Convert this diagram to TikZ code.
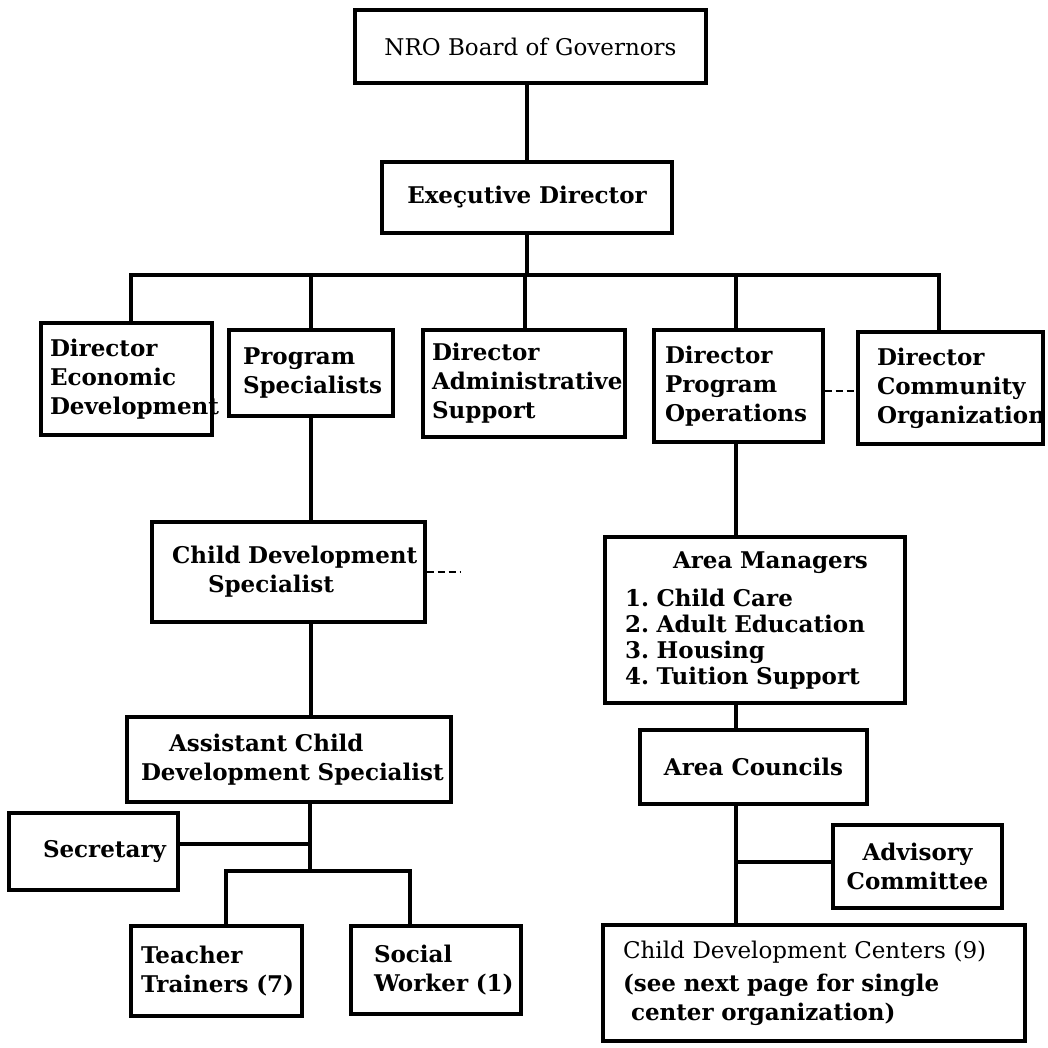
\documentclass[tikz,border=0pt]{standalone}
\usepackage{fontspec}
\setmainfont{DejaVu Serif}
\hyphenpenalty=10000
\exhyphenpenalty=10000
\newcommand\orgbox[8]{% name, x1, y1, x2, y2, inset, extra style, text
  \pgfmathsetmacro\obw{#4-#2}\pgfmathsetmacro\obh{#5-#3}\pgfmathsetmacro\otw{#4-#2-2*#6}%
  \node[box,minimum width=\obw pt,minimum height=\obh pt,text width=\otw pt,inner xsep=#6pt,align=left,#7] (#1) at ({(#2+#4)/2},{(#3+#5)/2}) {#8};}
\newcommand\orgcbox[7]{% name, x1, y1, x2, y2, extra style, text
  \pgfmathsetmacro\obw{#4-#2}\pgfmathsetmacro\obh{#5-#3}%
  \node[box,minimum width=\obw pt,minimum height=\obh pt,align=center,#6] (#1) at ({(#2+#4)/2},{(#3+#5)/2}) {#7};}
\tikzset{
  box/.style={draw,rectangle,line width=3.4pt,inner ysep=0pt,font=\fontsize{23}{29}\selectfont\bfseries},
  conn/.style={line width=3.4pt},
  dashconn/.style={line width=1.5pt,dash pattern=on 7pt off 4pt}
}
\begin{document}
\begin{tikzpicture}[x=1pt,y=-1pt]
\useasboundingbox[fill=white] (0,0) rectangle (1048,1047);
% boxes
\orgcbox{board}{355}{10}{706}{83}{font=\fontsize{23}{29}\selectfont\mdseries}{NRO Board of Governors}
\orgcbox{exec}{382}{162}{672}{233}{}{Exeçutive Director}
\orgbox{econ}{41}{323}{212}{435}{9}{}{Director\\Economic\\Development}
\orgbox{progspec}{229}{330}{393}{416}{14}{}{Program\\Specialists}
\orgbox{admin}{423}{330}{625}{437}{9}{}{Director\\Administrative\\Support}
\orgbox{ops}{654}{330}{823}{442}{11}{}{Director\\Program\\Operations}
\orgbox{comm}{858}{332}{1043}{444}{19}{}{Director\\Community\\Organization}
\orgbox{cds}{152}{522}{425}{622}{20}{}{Child~Development\\\hspace*{36pt}Specialist}
\orgbox{asst}{127}{717}{451}{802}{14}{}{\hspace*{28pt}Assistant~Child\\Development~Specialist}
\orgbox{secretary}{9}{813}{178}{890}{34}{}{Secretary}
\orgbox{teacher}{131}{926}{302}{1016}{10}{}{Teacher\\Trainers~(7)}
\orgbox{social}{351}{926}{521}{1014}{23}{}{Social\\Worker~(1)}
\orgbox{areamgr}{605}{537}{905}{703}{20}{font=\fontsize{23}{26}\selectfont\bfseries}{\hspace*{48pt}Area~Managers\\[12pt]1.~Child~Care\\2.~Adult~Education\\3.~Housing\\4.~Tuition~Support}
\orgcbox{councils}{640}{730}{867}{804}{}{Area Councils}
\orgcbox{advisory}{833}{825}{1002}{908}{}{Advisory\\Committee}
\orgbox{cdc}{603}{925}{1025}{1041}{20}{}{{\mdseries Child~Development~Centers~(9)}\\[4pt](see~next~page~for~single\\\hspace*{8pt}center~organization)}
% junction coordinates
\coordinate (b1) at (131,275);
\coordinate (b2) at (311,275);
\coordinate (b3) at (525,275);
\coordinate (b4) at (736,275);
\coordinate (b5) at (939,275);
\coordinate (pj) at (311,700);
\coordinate (aj) at (310,871);
\coordinate (t1) at (226,871);
\coordinate (t2) at (410,871);
\coordinate (sj) at (310,844);
\coordinate (oj) at (736,700);
\coordinate (vj) at (736,862);
\coordinate (dy) at (840,391);
\coordinate (cd) at (461,572);
% connectors
\draw[conn] (exec.north) -- (exec.north |- board.south);
\draw[conn] (exec.south) -- (exec.south |- b1);
\draw[conn] (b1 |- econ.north) -- (b1) -- (b5) -- (b5 |- comm.north);
\draw[conn] (b2) -- (b2 |- progspec.north);
\draw[conn] (b3) -- (b3 |- admin.north);
\draw[conn] (b4) -- (b4 |- ops.north);
\draw[conn] (progspec.south -| pj) -- (cds.north -| pj);
\draw[conn] (cds.south -| pj) -- (asst.north -| pj);
\draw[conn] (asst.south -| aj) -- (aj);
\draw[conn] (t1 |- teacher.north) -- (t1) -- (t2) -- (t2 |- social.north);
\draw[conn] (secretary.east |- sj) -- (sj);
\draw[conn] (ops.south -| oj) -- (areamgr.north -| oj);
\draw[conn] (areamgr.south -| oj) -- (councils.north -| oj);
\draw[conn] (councils.south -| oj) -- (cdc.north -| oj);
\draw[conn] (advisory.west |- vj) -- (vj);
\draw[dashconn] (ops.east |- dy) -- (comm.west |- dy);
\draw[dashconn] (cds.east |- cd) -- (cd);
\end{tikzpicture}
\end{document}
